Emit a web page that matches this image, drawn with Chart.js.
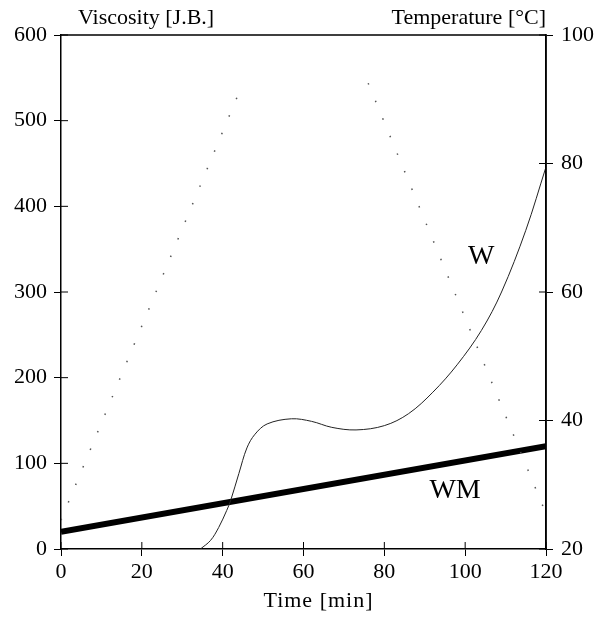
<!DOCTYPE html>
<html>
<head>
<meta charset="utf-8">
<script src="https://cdn.jsdelivr.net/npm/chart.js@4/dist/chart.umd.min.js"></script>
<style>
  body { margin: 0; background: #fff; }
  #wrap { width: 599px; height: 621px; position: relative; }
</style>
</head>
<body>
<div id="wrap"><canvas id="c"></canvas></div>
<script>
// W curve (viscosity, J.B.)
const timeW = [34.5, 37, 39, 41, 42, 44, 46, 48, 51, 57, 62, 67, 73, 80, 86, 92, 98, 104, 109, 115, 120];
const viscW = [0, 10, 25, 45, 57, 88, 118, 134, 146, 152, 149, 142, 139, 144, 158, 183, 215, 255, 300, 372, 446];
// WM line (viscosity)
const timeWM = [0, 120];
const viscWM = [20, 120];
// temperature programme (dotted), plateau not visible in the print
const timeT = [0, 45, 60, 76, 120];
const tempT = [24.5, 92.5, null, 92.5, 25.5];

const xTicks = [0, 20, 40, 60, 80, 100, 120];
const viscTicks = [0, 100, 200, 300, 400, 500, 600];
const tempTicks = [20, 40, 60, 80, 100];

const serif = '"Liberation Serif", "DejaVu Serif", serif';

const pts = (xs, ys) => xs.map((x, i) => ({ x: x, y: ys[i] }));

// frame on top, inner tick marks, curve labels and axis captions
const extras = {
  id: 'extras',
  afterDraw(chart) {
    const { ctx, chartArea: a, scales } = chart;
    ctx.save();
    ctx.strokeStyle = '#000';
    ctx.lineWidth = 1.5;
    ctx.beginPath();
    ctx.moveTo(a.left, a.top); ctx.lineTo(a.right, a.top);
    ctx.lineTo(a.right, a.bottom);
    ctx.stroke();

    ctx.lineWidth = 1;
    ctx.beginPath();
    viscTicks.forEach(v => {
      const y = scales.y.getPixelForValue(v);
      ctx.moveTo(a.left, y); ctx.lineTo(a.left + 7, y);
    });
    tempTicks.forEach(v => {
      const y = scales.y2.getPixelForValue(v);
      ctx.moveTo(a.right, y); ctx.lineTo(a.right - 7, y);
    });
    xTicks.forEach(v => {
      const x = scales.x.getPixelForValue(v);
      ctx.moveTo(x, a.bottom); ctx.lineTo(x, a.bottom - 7);
    });
    ctx.stroke();

    ctx.fillStyle = '#000';
    ctx.font = '28px ' + serif;
    ctx.textAlign = 'center';
    ctx.textBaseline = 'middle';
    ctx.fillText('W', scales.x.getPixelForValue(104), scales.y.getPixelForValue(341));
    ctx.fillText('WM', scales.x.getPixelForValue(97.5), scales.y.getPixelForValue(68));

    ctx.font = '22px ' + serif;
    ctx.textBaseline = 'alphabetic';
    ctx.textAlign = 'left';
    ctx.fillText('Viscosity [J.B.]', a.left + 17, a.top - 11);
    ctx.textAlign = 'right';
    ctx.fillText('Temperature [°C]', a.right, a.top - 11);

    ctx.textAlign = 'center';
    ctx.letterSpacing = '1px';
    ctx.fillText('Time [min]', (a.left + a.right) / 2 + 15, a.bottom + 58);
    ctx.restore();
  }
};

new Chart(document.getElementById('c'), {
  type: 'line',
  data: {
    datasets: [
      {
        data: pts(timeT, tempT),
        yAxisID: 'y2',
        borderColor: '#555',
        borderWidth: 1.5,
        borderDash: [1.5, 17.5],
        pointRadius: 0,
        spanGaps: false,
        tension: 0
      },
      {
        data: pts(timeW, viscW),
        yAxisID: 'y',
        borderColor: '#222',
        borderWidth: 1,
        pointRadius: 0,
        tension: 0.35
      },
      {
        data: pts(timeWM, viscWM),
        yAxisID: 'y',
        borderColor: '#000',
        borderWidth: 6,
        pointRadius: 0,
        tension: 0
      }
    ]
  },
  options: {
    responsive: true,
    maintainAspectRatio: false,
    animation: false,
    layout: { padding: { top: 35, left: 0, right: 0, bottom: 0 } },
    plugins: { legend: { display: false }, tooltip: { enabled: false } },
    scales: {
      x: {
        type: 'linear',
        min: 0, max: 120,
        afterFit: s => { s.height = 72; },
        afterBuildTicks: s => { s.ticks = xTicks.map(v => ({ value: v })); },
        grid: { drawOnChartArea: false, color: '#000', tickLength: 7 },
        border: { color: '#000', width: 1.5 },
        ticks: { color: '#000', padding: 3, font: { family: serif, size: 22 } }
      },
      y: {
        position: 'left',
        min: 0, max: 600,
        afterFit: s => { s.width = 61; },
        afterBuildTicks: s => { s.ticks = viscTicks.map(v => ({ value: v })); },
        grid: { drawOnChartArea: false, color: '#000', tickLength: 7 },
        border: { color: '#000', width: 1.5 },
        ticks: { color: '#000', padding: 7, font: { family: serif, size: 22 } }
      },
      y2: {
        position: 'right',
        min: 20, max: 100,
        afterFit: s => { s.width = 53; },
        afterBuildTicks: s => { s.ticks = tempTicks.map(v => ({ value: v })); },
        grid: { drawOnChartArea: false, color: '#000', tickLength: 7 },
        border: { color: '#000', width: 1.5 },
        ticks: { color: '#000', padding: 8, font: { family: serif, size: 22 } }
      }
    }
  },
  plugins: [extras]
});
</script>
</body>
</html>
